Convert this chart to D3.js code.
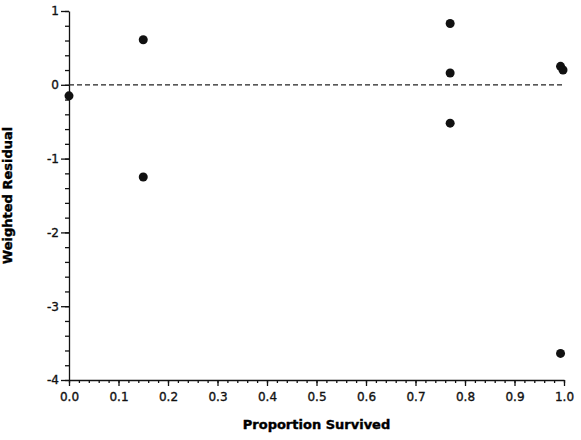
<!DOCTYPE html>
<html>
<head>
<meta charset="utf-8">
<script src="https://cdn.jsdelivr.net/npm/d3@7"></script>
<style>
  body { margin: 0; background: #fff; }
  svg { display: block; }
</style>
</head>
<body>
<script>
// values
const proportion = [0.0, 0.15, 0.15, 0.77, 0.77, 0.77, 0.993, 0.998, 0.993]
const residual = [-0.15, 0.61, -1.25, 0.83, 0.16, -0.52, 0.25, 0.2, -3.64]
const xTicks = [0, 0.1, 0.2, 0.3, 0.4, 0.5, 0.6, 0.7, 0.8, 0.9, 1.0]
const yTicks = [1, 0, -1, -2, -3, -4]

const width = 581
const height = 440

const x = d3.scaleLinear([0, 1], [69, 564])
const y = d3.scaleLinear([-4, 1], [380, 11])

const svg = d3.select("body").append("svg")
	.attr("width", width)
	.attr("height", height)
	.attr("viewBox", [0, 0, width, height])

// minor ticks first, then major axes on top
svg.append("g")
	.attr("transform", `translate(0,${y(-4)})`)
	.call(d3.axisBottom(x).tickValues(d3.range(0, 1.001, 0.02)).tickSize(3).tickFormat(""))
	.call(g => g.select(".domain").remove())

svg.append("g")
	.attr("transform", `translate(${x(0)},0)`)
	.call(d3.axisLeft(y).tickValues(d3.range(-4, 1.001, 0.2)).tickSize(4).tickFormat(""))
	.call(g => g.select(".domain").remove())

svg.append("g")
	.attr("transform", `translate(0,${y(-4)})`)
	.call(d3.axisBottom(x).tickValues(xTicks).tickSize(6).tickSizeOuter(0).tickPadding(6).tickFormat(d3.format(".1f")))

// plain hyphen for negatives, as in the original
svg.append("g")
	.attr("transform", `translate(${x(0)},0)`)
	.call(d3.axisLeft(y).tickValues(yTicks).tickSize(8).tickSizeOuter(0).tickPadding(2).tickFormat(d => String(d)))

svg.selectAll(".tick text")
	.attr("font-family", "DejaVu Sans, Verdana, sans-serif")
	.attr("font-size", 12)
	.attr("fill", "#111")
	.attr("stroke", "#111")
	.attr("stroke-width", 0.35)
svg.selectAll(".domain, .tick line").attr("stroke", "#111").attr("stroke-width", 1.3)

// zero reference line
svg.append("line")
	.attr("x1", x(0))
	.attr("x2", x(1))
	.attr("y1", y(0))
	.attr("y2", y(0))
	.attr("stroke", "#222")
	.attr("stroke-width", 1.2)
	.attr("stroke-dasharray", "5,3")

svg.append("g")
	.selectAll("circle")
	.data(d3.range(proportion.length))
	.join("circle")
	.attr("cx", i => x(proportion[i]))
	.attr("cy", i => y(residual[i]))
	.attr("r", 4.5)
	.attr("fill", "#111")

svg.append("text")
	.attr("x", (x(0) + x(1)) / 2)
	.attr("y", 429)
	.attr("text-anchor", "middle")
	.attr("font-family", "DejaVu Sans, Verdana, sans-serif")
	.attr("font-size", 13)
	.attr("font-weight", "bold")
	.attr("stroke", "#000")
	.attr("stroke-width", 0.4)
	.text("Proportion Survived")

svg.append("text")
	.attr("transform", `translate(12,${y(-1.5)}) rotate(-90)`)
	.attr("text-anchor", "middle")
	.attr("font-family", "DejaVu Sans, Verdana, sans-serif")
	.attr("font-size", 13)
	.attr("font-weight", "bold")
	.attr("stroke", "#000")
	.attr("stroke-width", 0.4)
	.text("Weighted Residual")
</script>
</body>
</html>
